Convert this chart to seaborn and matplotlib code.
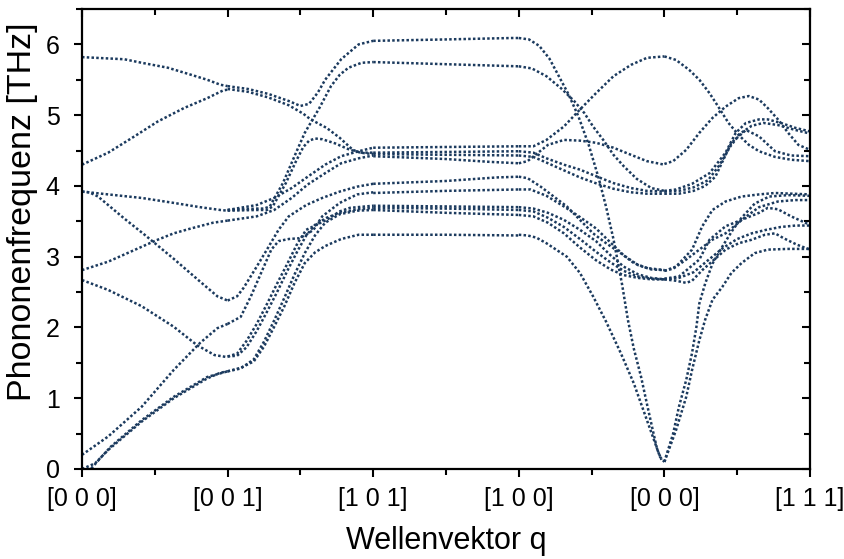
import matplotlib
matplotlib.use("Agg")
import matplotlib.pyplot as plt
import seaborn as sns
import pandas as pd

# High-symmetry points along the path
kpoint_labels = ["[0 0 0]", "[0 0 1]", "[1 0 1]", "[1 0 0]", "[0 0 0]", "[1 1 1]"]
y_ticks = [0, 1, 2, 3, 4, 5, 6]

# Each curve: list of (fraction along segment, frequency in THz)
seg1_curves = [
    [(0, 5.82), (0.29, 5.79), (0.41, 5.74), (0.59, 5.67), (0.75, 5.57), (0.86, 5.50), (0.95, 5.43), (1, 5.41)],
    [(0, 4.30), (0.18, 4.47), (0.36, 4.70), (0.52, 4.91), (0.70, 5.10), (0.86, 5.24), (0.97, 5.35), (1, 5.36)],
    [(0, 3.92), (0.18, 3.88), (0.41, 3.83), (0.63, 3.76), (0.81, 3.70), (0.95, 3.66), (1, 3.65)],
    [(0, 3.92), (0.05, 3.91), (0.11, 3.85), (0.29, 3.54), (0.43, 3.31), (0.63, 2.97), (0.81, 2.65), (0.93, 2.44), (1, 2.38)],
    [(0, 2.81), (0.18, 2.93), (0.41, 3.14), (0.52, 3.24), (0.63, 3.33), (0.75, 3.40), (0.90, 3.48), (1, 3.51)],
    [(0, 2.67), (0.18, 2.53), (0.41, 2.30), (0.63, 2.01), (0.79, 1.75), (0.91, 1.61), (1, 1.58)],
    [(0, 0.20), (0.18, 0.46), (0.41, 0.88), (0.63, 1.40), (0.81, 1.78), (0.93, 1.99), (1, 2.05)],
    [(0, 0.0), (0.09, 0.08), (0.18, 0.27), (0.41, 0.67), (0.63, 1.00), (0.86, 1.28), (0.95, 1.36), (1, 1.38)],
    [(0, 0.0), (0.06, 0.0), (0.12, 0.14), (0.2, 0.32), (0.41, 0.69), (0.63, 1.02), (0.86, 1.30), (1, 1.38)],
]

seg2_curves = [
    [(0, 5.41), (0.14, 5.37), (0.28, 5.30), (0.42, 5.20), (0.5, 5.13), (0.56, 5.16), (0.62, 5.32), (0.67, 5.50), (0.78, 5.79), (0.9, 6.00), (1, 6.05)],
    [(0, 5.37), (0.14, 5.33), (0.28, 5.25), (0.42, 5.14), (0.52, 5.02), (0.57, 4.94), (0.68, 4.82), (0.77, 4.68), (0.86, 4.51), (0.91, 4.47), (1, 4.45)],
    [(0, 3.66), (0.2, 3.68), (0.25, 3.68), (0.29, 3.71), (0.38, 4.04), (0.47, 4.47), (0.53, 4.75), (0.63, 5.10), (0.71, 5.41), (0.77, 5.57), (0.83, 5.67), (0.92, 5.74), (1, 5.75)],
    [(0, 3.65), (0.2, 3.66), (0.27, 3.66), (0.31, 3.71), (0.40, 4.04), (0.47, 4.35), (0.52, 4.55), (0.56, 4.64), (0.6, 4.67), (0.65, 4.66), (0.74, 4.60), (0.84, 4.51), (0.92, 4.47), (1, 4.47)],
    [(0, 3.51), (0.2, 3.57), (0.32, 3.66), (0.44, 3.83), (0.55, 4.02), (0.67, 4.18), (0.78, 4.32), (0.9, 4.39), (1, 4.43)],
    [(0, 3.66), (0.2, 3.73), (0.32, 3.83), (0.44, 3.97), (0.55, 4.13), (0.67, 4.30), (0.78, 4.42), (0.9, 4.49), (1, 4.54)],
    [(0, 2.38), (0.065, 2.44), (0.11, 2.56), (0.20, 2.86), (0.27, 3.10), (0.31, 3.24), (0.35, 3.38), (0.42, 3.57), (0.54, 3.73), (0.65, 3.83), (0.77, 3.92), (0.89, 3.99), (1, 4.03)],
    [(0, 2.05), (0.09, 2.15), (0.16, 2.44), (0.23, 2.77), (0.30, 3.10), (0.35, 3.22), (0.42, 3.25), (0.49, 3.26), (0.54, 3.31), (0.59, 3.38), (0.65, 3.57), (0.77, 3.76), (0.89, 3.88), (1, 3.91)],
    [(0, 1.59), (0.065, 1.63), (0.13, 1.81), (0.20, 2.05), (0.27, 2.33), (0.34, 2.62), (0.41, 2.90), (0.48, 3.19), (0.54, 3.38), (0.68, 3.52), (0.77, 3.64), (0.84, 3.69), (1, 3.72)],
    [(0, 1.59), (0.065, 1.60), (0.13, 1.72), (0.20, 1.95), (0.27, 2.22), (0.34, 2.50), (0.41, 2.80), (0.48, 3.08), (0.54, 3.30), (0.60, 3.45), (0.68, 3.55), (0.77, 3.62), (0.89, 3.67), (1, 3.69)],
    [(0, 1.38), (0.09, 1.43), (0.18, 1.52), (0.25, 1.73), (0.32, 2.01), (0.39, 2.30), (0.46, 2.63), (0.53, 2.91), (0.60, 3.06), (0.67, 3.15), (0.78, 3.25), (0.90, 3.31), (1, 3.31)],
    [(0, 1.38), (0.09, 1.42), (0.18, 1.55), (0.25, 1.80), (0.32, 2.10), (0.39, 2.42), (0.46, 2.75), (0.53, 3.05), (0.60, 3.30), (0.67, 3.48), (0.77, 3.60), (0.89, 3.65), (1, 3.66)],
]

seg3_curves = [
    [(0, 6.05), (0.5, 6.07), (0.95, 6.09), (1, 6.09)],
    [(0, 5.75), (0.5, 5.72), (1, 5.69)],
    [(0, 4.54), (0.5, 4.55), (1, 4.56)],
    [(0, 4.47), (0.5, 4.48), (1, 4.49)],
    [(0, 4.45), (0.5, 4.44), (1, 4.43)],
    [(0, 4.42), (0.5, 4.38), (0.8, 4.34), (1, 4.32)],
    [(0, 4.03), (0.5, 4.07), (0.85, 4.12), (1, 4.13)],
    [(0, 3.90), (0.5, 3.93), (1, 3.95)],
    [(0, 3.72), (0.5, 3.71), (1, 3.70)],
    [(0, 3.69), (0.5, 3.68), (1, 3.66)],
    [(0, 3.66), (0.5, 3.62), (1, 3.59)],
    [(0, 3.31), (0.5, 3.31), (1, 3.30)],
]

seg4_curves = [
    [(0, 6.09), (0.07, 6.07), (0.14, 5.98), (0.21, 5.80), (0.27, 5.57), (0.34, 5.30), (0.41, 4.98), (0.48, 4.58), (0.55, 4.10), (0.60, 3.70), (0.65, 3.25), (0.71, 2.60), (0.75, 2.10), (0.79, 1.70), (0.84, 1.30), (0.88, 0.92), (0.92, 0.55), (0.95, 0.28), (0.98, 0.13)],
    [(0, 5.69), (0.09, 5.66), (0.19, 5.55), (0.29, 5.38), (0.38, 5.20), (0.45, 5.03), (0.51, 4.84), (0.58, 4.65), (0.65, 4.44), (0.72, 4.28), (0.81, 4.10), (0.91, 3.97), (1, 3.93)],
    [(0, 4.56), (0.10, 4.56), (0.19, 4.65), (0.31, 4.84), (0.42, 5.08), (0.53, 5.31), (0.65, 5.55), (0.77, 5.71), (0.88, 5.81), (1, 5.83)],
    [(0, 4.32), (0.06, 4.35), (0.20, 4.58), (0.31, 4.65), (0.42, 4.64), (0.53, 4.61), (0.65, 4.54), (0.77, 4.44), (0.88, 4.35), (1, 4.30)],
    [(0, 4.49), (0.10, 4.47), (0.19, 4.39), (0.31, 4.30), (0.42, 4.23), (0.54, 4.13), (0.65, 4.04), (0.77, 3.97), (0.88, 3.93), (1, 3.92)],
    [(0, 4.43), (0.10, 4.41), (0.19, 4.33), (0.31, 4.22), (0.42, 4.12), (0.54, 4.03), (0.65, 3.96), (0.77, 3.91), (0.88, 3.89), (1, 3.89)],
    [(0, 4.13), (0.06, 4.11), (0.15, 3.99), (0.24, 3.85), (0.33, 3.71), (0.42, 3.52), (0.51, 3.33), (0.60, 3.19), (0.70, 3.05), (0.79, 2.91), (0.88, 2.84), (1, 2.81)],
    [(0, 3.95), (0.08, 3.95), (0.19, 3.86), (0.31, 3.71), (0.42, 3.56), (0.53, 3.40), (0.63, 3.20), (0.72, 3.02), (0.82, 2.88), (0.91, 2.82), (1, 2.81)],
    [(0, 3.70), (0.1, 3.68), (0.2, 3.62), (0.31, 3.52), (0.42, 3.38), (0.53, 3.22), (0.63, 3.02), (0.72, 2.86), (0.82, 2.75), (0.91, 2.70), (1, 2.68)],
    [(0, 3.66), (0.1, 3.64), (0.2, 3.55), (0.31, 3.42), (0.42, 3.25), (0.53, 3.07), (0.63, 2.92), (0.72, 2.80), (0.82, 2.72), (0.91, 2.69), (1, 2.68)],
    [(0, 3.59), (0.1, 3.57), (0.2, 3.48), (0.31, 3.33), (0.42, 3.13), (0.53, 2.95), (0.63, 2.82), (0.72, 2.74), (0.82, 2.70), (0.91, 2.68), (1, 2.68)],
    [(0, 3.31), (0.06, 3.30), (0.12, 3.27), (0.19, 3.19), (0.33, 3.00), (0.42, 2.77), (0.51, 2.44), (0.60, 2.08), (0.70, 1.64), (0.79, 1.21), (0.88, 0.69), (0.97, 0.17), (1, 0.10)],
]

seg5_curves = [
    [(0, 5.83), (0.08, 5.78), (0.17, 5.64), (0.24, 5.50), (0.31, 5.31), (0.37, 5.12), (0.44, 4.89), (0.51, 4.72), (0.58, 4.58), (0.65, 4.49), (0.76, 4.41), (0.87, 4.37), (1, 4.35)],
    [(0, 4.31), (0.06, 4.35), (0.15, 4.51), (0.24, 4.75), (0.33, 4.96), (0.42, 5.12), (0.51, 5.24), (0.58, 5.27), (0.65, 5.22), (0.71, 5.10), (0.78, 4.94), (0.85, 4.75), (0.92, 4.58), (1, 4.51)],
    [(0, 3.93), (0.08, 3.95), (0.19, 4.03), (0.31, 4.18), (0.42, 4.47), (0.49, 4.75), (0.56, 4.89), (0.65, 4.94), (0.71, 4.94), (0.80, 4.89), (0.90, 4.82), (1, 4.77)],
    [(0, 3.92), (0.1, 3.93), (0.2, 3.98), (0.3, 4.08), (0.38, 4.30), (0.45, 4.55), (0.52, 4.74), (0.6, 4.85), (0.68, 4.89), (0.78, 4.86), (0.9, 4.79), (1, 4.74)],
    [(0, 3.89), (0.1, 3.89), (0.2, 3.93), (0.28, 4.00), (0.35, 4.13), (0.46, 4.61), (0.56, 4.79), (0.65, 4.70), (0.76, 4.49), (0.87, 4.43), (1, 4.42)],
    [(0, 2.80), (0.08, 2.86), (0.19, 3.10), (0.26, 3.43), (0.33, 3.66), (0.42, 3.78), (0.53, 3.85), (0.65, 3.88), (0.76, 3.90), (1, 3.88)],
    [(0, 2.69), (0.10, 2.72), (0.24, 2.96), (0.31, 3.24), (0.42, 3.43), (0.53, 3.52), (0.65, 3.62), (0.71, 3.69), (0.78, 3.67), (0.87, 3.57), (1, 3.45)],
    [(0, 2.80), (0.06, 2.83), (0.15, 2.96), (0.24, 3.10), (0.33, 3.24), (0.42, 3.33), (0.55, 3.55), (0.65, 3.70), (0.78, 3.78), (0.9, 3.80), (1, 3.80)],
    [(0, 2.68), (0.08, 2.66), (0.15, 2.63), (0.19, 2.66), (0.26, 2.81), (0.42, 3.10), (0.51, 3.19), (0.60, 3.24), (0.69, 3.31), (0.76, 3.33), (0.82, 3.26), (0.91, 3.17), (1, 3.10)],
    [(0, 2.68), (0.1, 2.70), (0.2, 2.78), (0.3, 2.95), (0.4, 3.12), (0.5, 3.25), (0.6, 3.33), (0.7, 3.38), (0.8, 3.42), (0.9, 3.44), (1, 3.44)],
    [(0, 0.10), (0.01, 0.17), (0.06, 0.50), (0.10, 0.88), (0.15, 1.26), (0.19, 1.64), (0.22, 2.01), (0.24, 2.34), (0.28, 2.62), (0.33, 2.90), (0.40, 3.15), (0.47, 3.38), (0.53, 3.55), (0.62, 3.75), (0.72, 3.85), (0.85, 3.87), (1, 3.86)],
    [(0, 0.10), (0.08, 0.55), (0.15, 1.02), (0.19, 1.40), (0.24, 1.82), (0.28, 2.11), (0.33, 2.39), (0.40, 2.58), (0.46, 2.77), (0.53, 2.91), (0.62, 3.05), (0.71, 3.10), (0.85, 3.11), (1, 3.11)],
]

segments = [seg1_curves, seg2_curves, seg3_curves, seg4_curves, seg5_curves]

rows = []
for si, curves in enumerate(segments):
    for ci, curve in enumerate(curves):
        for t, f in curve:
            rows.append({"q": si + t, "f": f, "curve": f"s{si}c{ci}"})
df = pd.DataFrame(rows)

sns.set_theme(style="white")
plt.rcParams["font.family"] = ["Liberation Sans", "DejaVu Sans"]
plt.rcParams["text.color"] = "black"
plt.rcParams["axes.labelcolor"] = "black"

fig = plt.figure(figsize=(8.45, 5.59), dpi=100)
ax = fig.add_axes([82 / 845, 90 / 559, 728 / 845, 460 / 559])

color = "#1b3a5e"
sns.lineplot(data=df, x="q", y="f", units="curve", estimator=None, sort=False,
             color=color, linewidth=1.8, linestyle=(0, (1, 0.9)), legend=False, ax=ax)

ax.set_xlim(0, 5)
ax.set_ylim(0, 6.5)
ax.set_xticks(range(len(kpoint_labels)))
ax.set_xticklabels(kpoint_labels)
ax.set_xticks([i + 0.5 for i in range(5)], minor=True)
ax.set_yticks(y_ticks)
ax.set_yticks([v + 0.5 for v in range(7)], minor=True)

for sp in ax.spines.values():
    sp.set_linewidth(1.6)
    sp.set_color("black")

ax.tick_params(axis="both", which="major", direction="out", length=6, width=1.5,
               labelsize=18, color="black", labelcolor="black")
ax.tick_params(axis="both", which="minor", direction="out", length=4, width=1.5, color="black")
ax.tick_params(axis="y", which="major", pad=10)
ax.tick_params(axis="x", which="major", pad=7)
ax.tick_params(bottom=True, left=True, which="both")

top = ax.secondary_xaxis("top")
top.set_xticks(range(6))
top.set_xticks([i + 0.5 for i in range(5)], minor=True)
top.set_xticklabels([])
top.tick_params(which="major", direction="in", length=6, width=1.5, color="black")
top.tick_params(which="minor", direction="in", length=4, width=1.5, color="black")

right = ax.secondary_yaxis("right")
right.set_yticks(y_ticks)
right.set_yticks([v + 0.5 for v in range(7)], minor=True)
right.set_yticklabels([])
right.tick_params(which="major", direction="in", length=6, width=1.5, color="black")
right.tick_params(which="minor", direction="in", length=4, width=1.5, color="black")

ax.set_xlabel("Wellenvektor q", fontsize=22, labelpad=11, color="black")
ax.set_ylabel("Phononenfrequenz [THz]", fontsize=24.5, color="black")
ax.yaxis.set_label_coords(-0.06, 0.56)

fig.savefig("out.png", dpi=100)
